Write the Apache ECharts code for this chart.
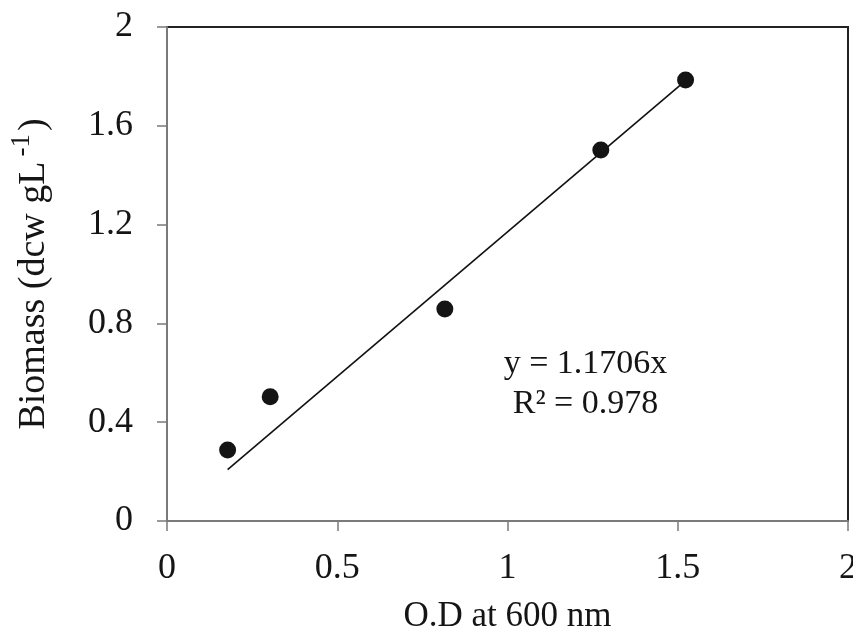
<!DOCTYPE html>
<html>
<head>
<meta charset="utf-8">
<script src="https://cdn.jsdelivr.net/npm/echarts@6/dist/echarts.min.js"></script>
<style>
  html, body { margin: 0; padding: 0; background: #ffffff; }
  #chart { width: 853px; height: 633px; }
</style>
</head>
<body>
<div id="chart"></div>
<script>
// Optical density at 600 nm vs. dry cell weight
const odValues = [0.178, 0.303, 0.816, 1.274, 1.523];
const biomassValues = [0.287, 0.503, 0.858, 1.502, 1.785];

// Linear fit through the origin, as reported
const slope = 1.1706;
const rSquared = 0.978;

// Axis ticks
const xTicks = [0, 0.5, 1, 1.5, 2];
const yTicks = [0, 0.4, 0.8, 1.2, 1.6, 2];

const points = odValues.map((x, i) => [x, biomassValues[i]]);
const xFitMin = Math.min(...odValues);
const xFitMax = Math.max(...odValues);
const fitLine = [[xFitMin, slope * xFitMin], [xFitMax, slope * xFitMax]];

const FONT = '"Liberation Serif", "Times New Roman", serif';
const TICK_FS = 36;
const TITLE_FS = 35;
const Y_TITLE_FS = 38;
const EQ_FS = 34;
const INK = '#151515';

const chart = echarts.init(document.getElementById('chart'), null, { renderer: 'canvas' });

chart.setOption({
  backgroundColor: '#ffffff',
  animation: false,
  grid: {
    left: 167, right: 5, top: 27, bottom: 112,
    outerBoundsMode: 'none',
    containLabel: false,
    show: true, borderColor: '#222222', borderWidth: 2, backgroundColor: 'transparent'
  },
  xAxis: {
    type: 'value',
    min: xTicks[0], max: xTicks[xTicks.length - 1], interval: 0.5,
    name: 'O.D at 600 nm',
    nameLocation: 'middle',
    nameGap: 78,
    nameTextStyle: { fontFamily: FONT, fontSize: TITLE_FS, color: INK },
    axisLine: { show: true, lineStyle: { color: '#7a7a7a', width: 2 } },
    axisTick: { show: true, inside: false, length: 10, lineStyle: { color: '#7a7a7a', width: 1.5 } },
    axisLabel: {
      margin: 30, fontFamily: FONT, fontSize: TICK_FS, color: INK,
      formatter: v => String(v)
    },
    splitLine: { show: false }
  },
  yAxis: {
    type: 'value',
    min: yTicks[0], max: yTicks[yTicks.length - 1], interval: 0.4,
    name: '{t|Biomass (dcw gL}{s|-1}{t|)}',
    nameLocation: 'middle',
    nameRotate: 90,
    nameGap: 114,
    nameTextStyle: {
      fontFamily: FONT, fontSize: Y_TITLE_FS, color: INK,
      rich: {
        t: { fontFamily: FONT, fontSize: Y_TITLE_FS, color: INK, verticalAlign: 'bottom', lineHeight: 45 },
        s: { fontFamily: FONT, fontSize: 27, color: INK, verticalAlign: 'top', lineHeight: 45, padding: [0, 3, 0, 5] }
      }
    },
    axisLine: { show: true, lineStyle: { color: '#7a7a7a', width: 2 } },
    axisTick: { show: true, inside: false, length: 10, lineStyle: { color: '#7a7a7a', width: 1.5 } },
    axisLabel: {
      margin: 34, fontFamily: FONT, fontSize: TICK_FS, color: INK,
      formatter: v => String(Math.round(v * 10) / 10)
    },
    splitLine: { show: false }
  },
  series: [
    {
      name: 'Linear fit',
      type: 'line',
      data: fitLine,
      symbol: 'none',
      lineStyle: { color: '#111111', width: 1.6 },
      z: 2
    },
    {
      name: 'Biomass',
      type: 'scatter',
      data: points,
      symbol: 'circle',
      symbolSize: 17,
      itemStyle: { color: '#141414', opacity: 1 },
      z: 3
    }
  ],
  graphic: [
    {
      type: 'text',
      x: 585.5, y: 364,
      style: {
        text: 'y = ' + slope.toFixed(4) + 'x',
        font: EQ_FS + 'px ' + FONT,
        fill: INK,
        align: 'center',
        verticalAlign: 'middle'
      }
    },
    {
      type: 'text',
      x: 585.5, y: 404,
      style: {
        text: 'R² = ' + rSquared.toFixed(3),
        font: EQ_FS + 'px ' + FONT,
        fill: INK,
        align: 'center',
        verticalAlign: 'middle'
      }
    }
  ]
});
</script>
</body>
</html>
